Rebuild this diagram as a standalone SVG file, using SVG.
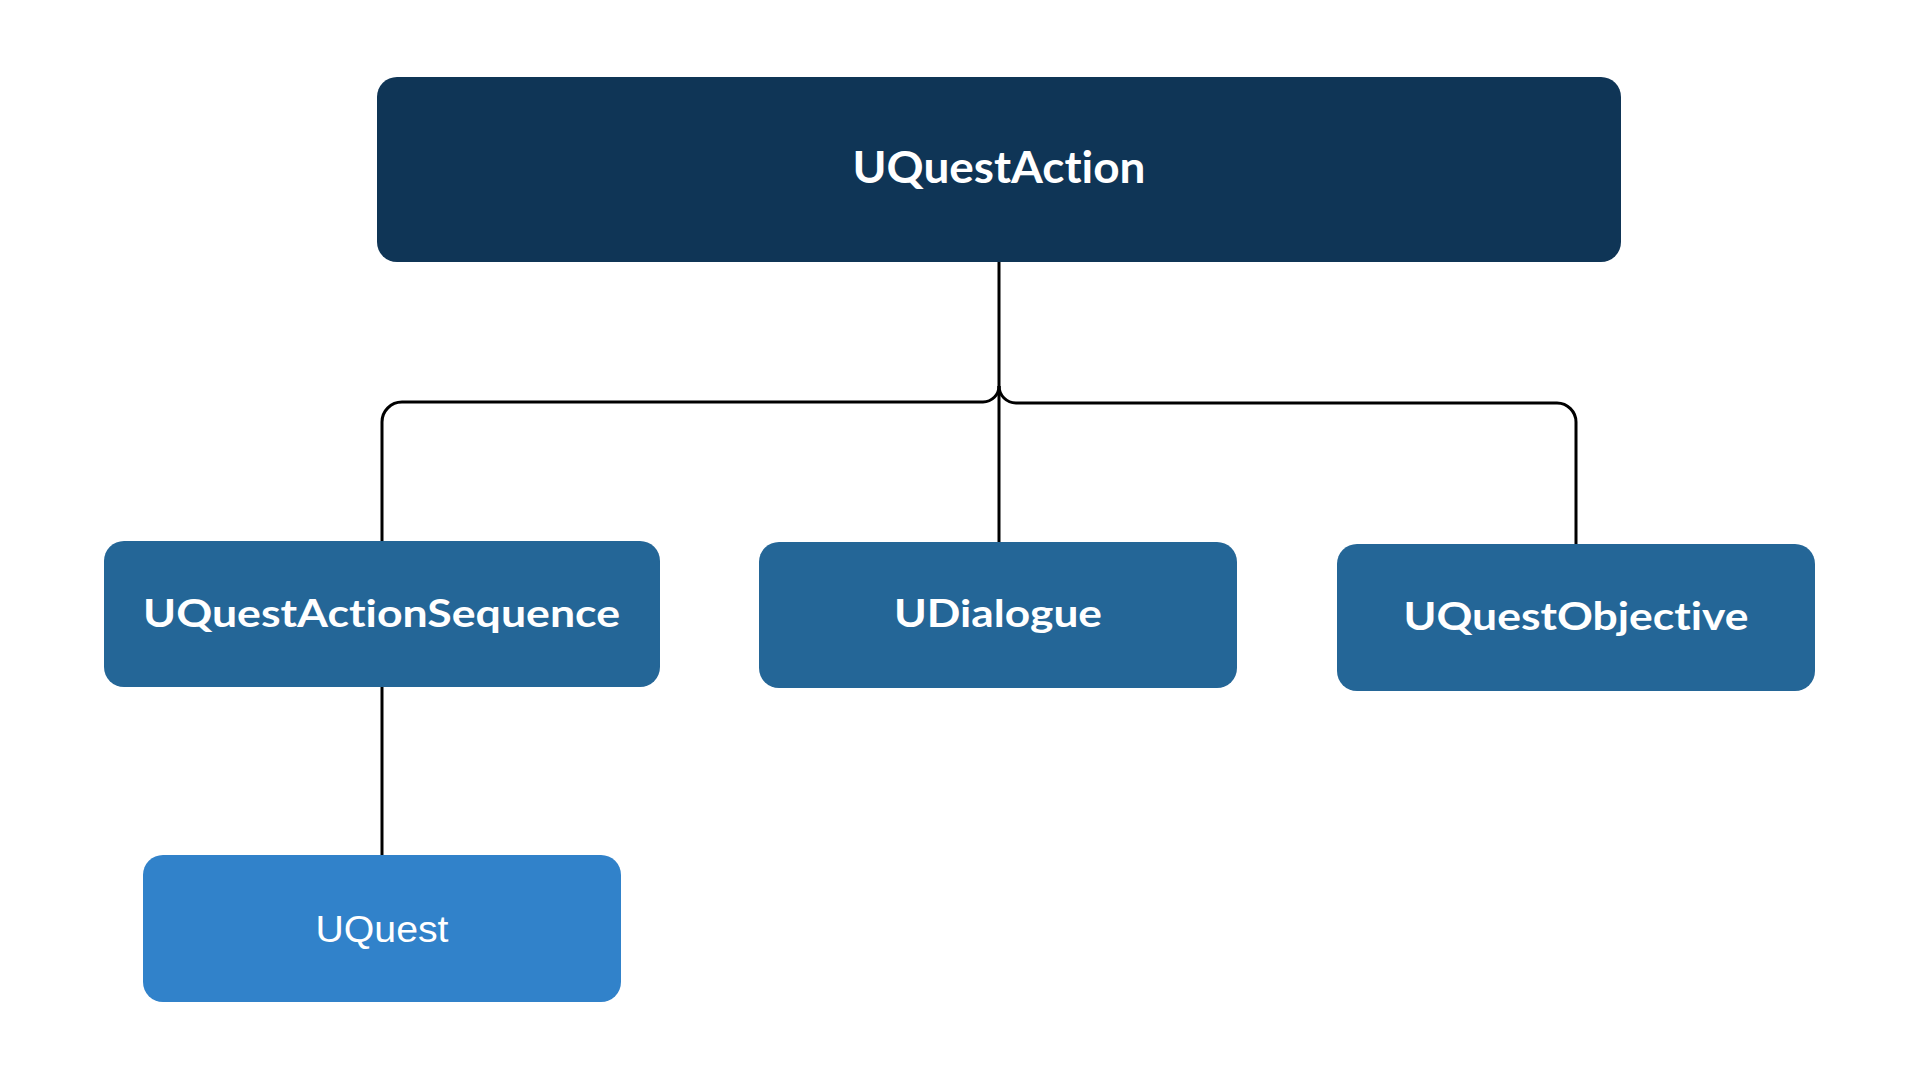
<svg xmlns="http://www.w3.org/2000/svg" width="1920" height="1080" viewBox="0 0 1920 1080">
<style>
.lbl{font-family:Lato,"Open Sans","Liberation Sans",sans-serif;font-weight:700;fill:#ffffff;text-anchor:middle;font-variant-ligatures:none;font-feature-settings:"liga" 0}
.reg{font-family:"Liberation Sans",Arial,sans-serif;font-weight:400;fill:#ffffff;text-anchor:middle}
.conn{fill:none;stroke:#000000;stroke-width:3}
</style>
<rect width="1920" height="1080" fill="#ffffff"/>
<g id="connectors">
<path class="conn" d="M999,262 V386 A16,16 0 0 1 983,402 H402 A20,20 0 0 0 382,422 V541"/>
<path class="conn" d="M999,386 A17,17 0 0 0 1016,403 H1557 A19,19 0 0 1 1576,422 V544"/>
<path class="conn" d="M999,386 V542"/>
<path class="conn" d="M382,687 V858"/>
</g>
<g id="node-uquestaction">
<rect x="377" y="77" width="1244" height="185" rx="20" fill="#0f3556"/>
<text class="lbl" x="999" y="183" font-size="43" textLength="293" lengthAdjust="spacingAndGlyphs">UQuestAction</text>
</g>
<g id="node-uquestactionsequence">
<rect x="104" y="541" width="556" height="146" rx="20" fill="#246697"/>
<text class="lbl" x="381.5" y="627" font-size="38" textLength="477" lengthAdjust="spacingAndGlyphs">UQuestActionSequence</text>
</g>
<g id="node-udialogue">
<rect x="759" y="542" width="478" height="146" rx="20" fill="#246697"/>
<text class="lbl" x="998" y="627" font-size="38" textLength="208" lengthAdjust="spacingAndGlyphs">UDialogue</text>
</g>
<g id="node-uquestobjective">
<rect x="1337" y="544" width="478" height="147" rx="20" fill="#246697"/>
<text class="lbl" x="1576" y="630" font-size="39" textLength="345" lengthAdjust="spacingAndGlyphs">UQuestObjective</text>
</g>
<g id="node-uquest">
<rect x="143" y="855" width="478" height="147" rx="20" fill="#3182ca"/>
<text class="reg" x="382" y="942" font-size="37" textLength="133" lengthAdjust="spacingAndGlyphs">UQuest</text>
</g>
</svg>
